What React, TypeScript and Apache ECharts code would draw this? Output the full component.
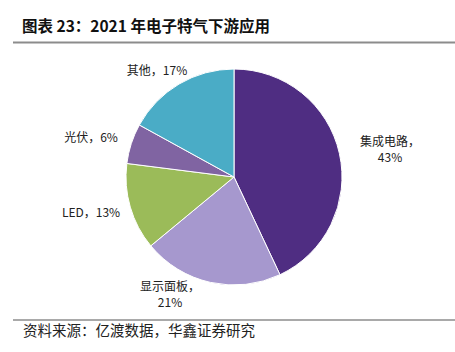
import React, { useEffect, useRef } from "react";
import * as echarts from "echarts";

const categories = ["集成电路", "显示面板", "LED", "光伏", "其他"];
const values = [43, 21, 13, 6, 17];
const colors = ["#4F2D82", "#A698CE", "#9BBB59", "#8064A2", "#4AACC6"];
const labelTexts = ["集成电路，\n43%", "显示面板，\n21%", "LED，13%", "光伏，6%", "其他，17%"];
const labelPos: [number, number][] = [
  [390, 148],
  [170, 293],
  [91, 211],
  [91, 136],
  [157, 69],
];

export default function App() {
  const ref = useRef<HTMLDivElement>(null);
  useEffect(() => {
    if (!ref.current) return;
    const chart = echarts.init(ref.current, undefined, { renderer: "svg" });
    const font = "'Noto Sans CJK SC', 'Noto Sans', sans-serif";
    chart.setOption({
      animation: false,
      backgroundColor: "#ffffff",
      graphic: [
        {
          type: "text",
          left: 22,
          top: 17,
          style: {
            text: "图表 23：2021 年电子特气下游应用",
            fontSize: 15.5,
            fontWeight: "bold",
            fill: "#111",
            fontFamily: font,
          },
        },
        {
          type: "line",
          shape: { x1: 13, y1: 42.5, x2: 455, y2: 42.5 },
          style: { stroke: "#8c8c8c", lineWidth: 2 },
        },
        {
          type: "line",
          shape: { x1: 13, y1: 320, x2: 455, y2: 320 },
          style: { stroke: "#8c8c8c", lineWidth: 1.5 },
        },
        {
          type: "text",
          left: 23,
          top: 322,
          style: {
            text: "资料来源：亿渡数据，华鑫证券研究",
            fontSize: 14.5,
            fill: "#222",
            fontFamily: font,
          },
        },
      ],
      series: [
        {
          type: "pie",
          center: [234, 177],
          radius: [0, 108],
          startAngle: 90,
          clockwise: true,
          silent: true,
          itemStyle: { borderColor: "#ffffff", borderWidth: 1 },
          labelLine: { show: false },
          label: {
            show: true,
            position: "outside",
            overflow: "none",
            formatter: (p: any) => labelTexts[p.dataIndex],
            fontSize: 12,
            lineHeight: 16,
            color: "#222",
            fontFamily: font,
            align: "center",
          },
          labelLayout: (p: any) => ({
            x: labelPos[p.dataIndex][0],
            y: labelPos[p.dataIndex][1],
            align: "center",
            verticalAlign: "middle",
          }),
          data: categories.map((c, i) => ({
            name: c,
            value: values[i],
            itemStyle: { color: colors[i] },
          })),
        },
      ],
    });
    return () => chart.dispose();
  }, []);
  return (
    <div
      ref={ref}
      style={{ position: "absolute", left: 0, top: 0, width: 455, height: 352 }}
    />
  );
}
